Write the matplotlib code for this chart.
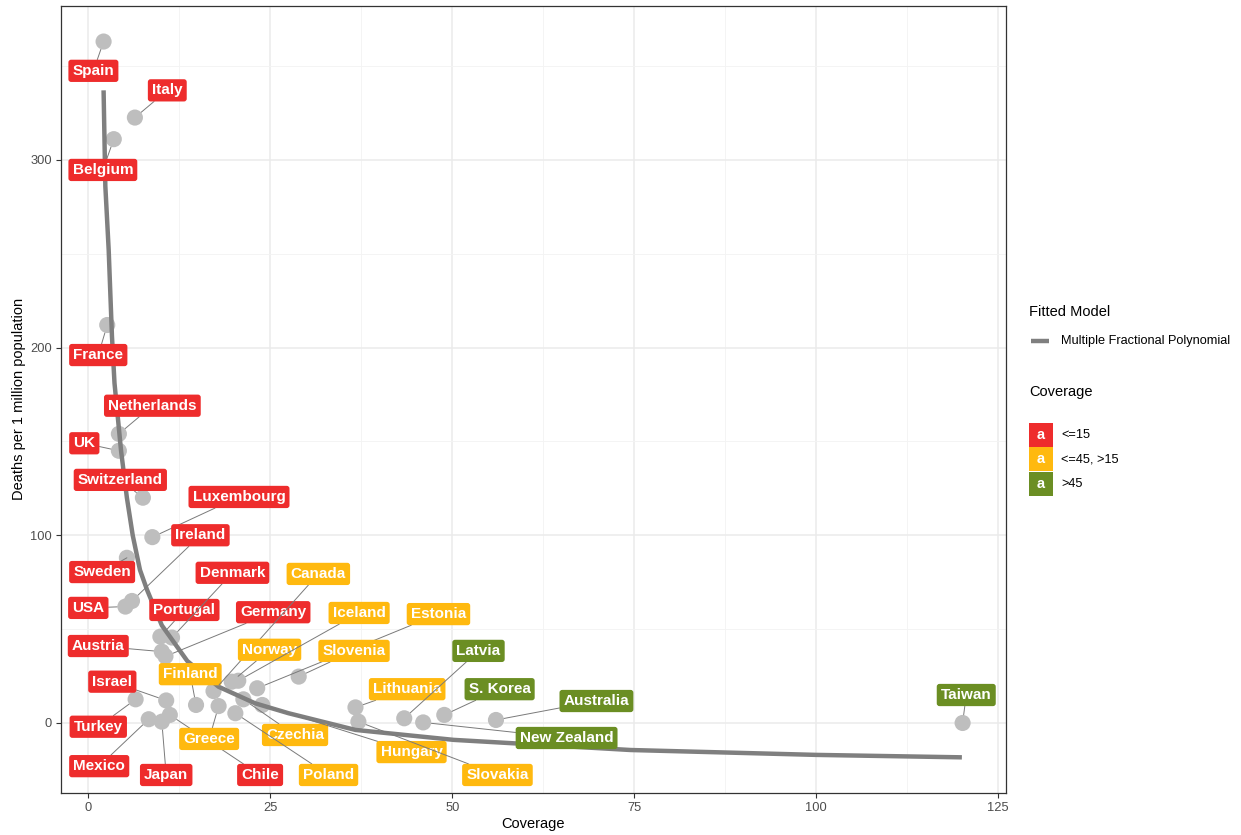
import matplotlib
matplotlib.use("Agg")
import matplotlib.pyplot as plt
from matplotlib.patches import Rectangle
from matplotlib.ticker import MultipleLocator

plt.rcParams['font.family'] = ['Liberation Sans', 'DejaVu Sans']

# ---------------- data ----------------
countries = ["Spain", "Italy", "Belgium", "France", "Netherlands", "UK", "Switzerland",
             "Luxembourg", "Sweden", "Ireland", "USA", "Portugal", "Denmark", "Austria",
             "Germany", "Israel", "Turkey", "Mexico", "Japan", "Chile", "Finland", "Greece",
             "Canada", "Norway", "Iceland", "Estonia", "Slovenia", "Czechia", "Hungary",
             "Poland", "Lithuania", "Slovakia", "Latvia", "New Zealand", "S. Korea",
             "Australia", "Taiwan"]
coverage = [2.1, 6.4, 3.5, 2.6, 4.2, 4.2, 7.5,
            8.8, 5.3, 6.0, 5.1, 9.9, 11.5, 10.1,
            10.6, 10.7, 6.5, 8.3, 10.1, 11.2, 14.8, 17.9,
            17.2, 19.7, 20.6, 23.2, 28.9, 21.3, 23.9,
            20.2, 36.7, 37.1, 43.4, 46.0, 48.9,
            56.0, 120.1]
deaths = [363, 322.5, 311, 212, 154, 145, 120,
          99, 88, 65, 62, 46, 45.5, 38,
          35.5, 12, 12.6, 2, 0.7, 4.3, 9.6, 9,
          17, 22, 22.5, 18.5, 24.7, 12.6, 9.6,
          5.2, 8.3, 0.7, 2.5, 0.3, 4.3,
          1.6, 0]
group = ["<=15"] * 20 + ["<=45, >15"] * 12 + [">45"] * 5

# fitted model curve
fit_x = [2.1, 2.34, 2.8, 3.25, 3.6, 4.5, 5.3, 6.1, 7.1, 8.06, 10.1, 13.6,
         17.9, 22.9, 27.5, 36.7, 50.2, 74.5, 100, 120]
fit_y = [337, 286, 252, 206, 181, 145, 120, 100, 81.5, 71, 52, 33,
         19.3, 10.5, 5.2, -3.7, -9, -14.4, -17, -18.3]

group_levels = ["<=15", "<=45, >15", ">45"]

# ---------------- layout / style ----------------
group_colors = {"<=15": "#EE2C2C", "<=45, >15": "#FFB90F", ">45": "#6B8E23"}

# repelled label positions (layout, data coordinates)
label_pos = {
    "Spain": (0.7, 347.4), "Italy": (10.85, 337), "Belgium": (2.0, 294.6),
    "France": (1.37, 196), "Netherlands": (8.8, 169), "UK": (-0.55, 149),
    "Switzerland": (4.4, 129.5), "Luxembourg": (20.7, 120.4), "Ireland": (15.4, 100),
    "Sweden": (1.9, 80.4), "USA": (0.0, 61.3), "Denmark": (19.8, 80),
    "Portugal": (13.2, 60.2), "Germany": (25.4, 59), "Austria": (1.37, 41),
    "Canada": (31.6, 79.4), "Iceland": (37.2, 58.6), "Estonia": (48.1, 58),
    "Norway": (24.9, 39), "Slovenia": (36.5, 38.4), "Latvia": (53.6, 38.4),
    "Finland": (14.0, 26), "Israel": (3.3, 22), "Lithuania": (43.8, 18),
    "S. Korea": (56.5, 18), "Australia": (69.8, 11.7), "Taiwan": (120.6, 14.9),
    "Turkey": (1.37, -2), "Greece": (16.6, -8.5), "Czechia": (28.4, -6.4),
    "New Zealand": (65.7, -8), "Hungary": (44.4, -15.5), "Mexico": (1.5, -23),
    "Japan": (10.7, -27.7), "Chile": (23.6, -27.7), "Poland": (33.0, -27.7),
    "Slovakia": (56.2, -27.7),
}

W, H = 1241, 835
fig = plt.figure(figsize=(W / 100, H / 100), dpi=100)
fig.patch.set_facecolor("white")

pl, pr, pt, pb = 61, 1006, 5.5, 793
ax = fig.add_axes([pl / W, 1 - pb / H, (pr - pl) / W, (pb - pt) / H])
ax.set_facecolor("white")
ax.set_xlim(-3.75, 126.06)
ax.set_ylim(-37.3, 382.2)

ax.xaxis.set_major_locator(MultipleLocator(25))
ax.xaxis.set_minor_locator(MultipleLocator(12.5))
ax.yaxis.set_major_locator(MultipleLocator(100))
ax.yaxis.set_minor_locator(MultipleLocator(50))
ax.grid(which="major", color="#EBEBEB", linewidth=1.1, zorder=0)
ax.grid(which="minor", color="#F3F3F3", linewidth=0.6, zorder=0)
ax.set_axisbelow(True)
ax.tick_params(which="minor", length=0)
ax.tick_params(which="major", length=3.5, width=0.8, color="#333333",
               labelsize=9.3, labelcolor="#4D4D4D", pad=3)
for s in ax.spines.values():
    s.set_color("#333333")
    s.set_linewidth(0.9)

ax.set_xlabel("Coverage", fontsize=10.5, color="black", labelpad=2)
ax.set_ylabel("Deaths per 1 million population", fontsize=10.5, color="black", labelpad=3)

# points
ax.scatter(coverage, deaths, s=135, color="#BEBEBE", edgecolors="none", zorder=2)

# fitted line
ax.plot(fit_x, fit_y, color="#7F7F7F", linewidth=3.2, zorder=3, solid_capstyle="butt")

# labels with leader segments
for c, x, y, g in zip(countries, coverage, deaths, group):
    lx, ly = label_pos[c]
    ax.annotate(c, xy=(x, y), xytext=(lx, ly), textcoords="data",
                ha="center", va="center", fontsize=11, fontweight="bold",
                color="white", zorder=5,
                bbox=dict(boxstyle="round,pad=0.27,rounding_size=0.18",
                          fc=group_colors[g], ec="none"),
                arrowprops=dict(arrowstyle="-", color="#7A7A7A", lw=0.7,
                                shrinkA=0, shrinkB=6))

# ---------------- legend (manual, pixel coords) ----------------
lg = fig.add_axes([0, 0, 1, 1])
lg.set_xlim(0, W)
lg.set_ylim(H, 0)
lg.axis("off")
lg.patch.set_visible(False)

lg.text(1029, 312, "Fitted Model", fontsize=10.5, ha="left", va="center", color="black")
lg.plot([1031, 1049], [341, 341], color="#7F7F7F", linewidth=3.2, solid_capstyle="butt")
lg.text(1061, 341, "Multiple Fractional Polynomial", fontsize=9.2, ha="left", va="center",
        color="black")

lg.text(1029, 392, "Coverage", fontsize=10.5, ha="left", va="center", color="black")
top = 423
for i, lvl in enumerate(group_levels):
    y0 = top + i * 24.3
    lg.add_patch(Rectangle((1029, y0), 23.5, 24, facecolor=group_colors[lvl],
                           edgecolor="none"))
    lg.text(1040.7, y0 + 12, "a", fontsize=10.5, fontweight="bold", color="white",
            ha="center", va="center")
    lg.text(1061, y0 + 12.5, lvl, fontsize=9.2, ha="left", va="center", color="black")

fig.savefig("out.png", dpi=100, facecolor="white")
